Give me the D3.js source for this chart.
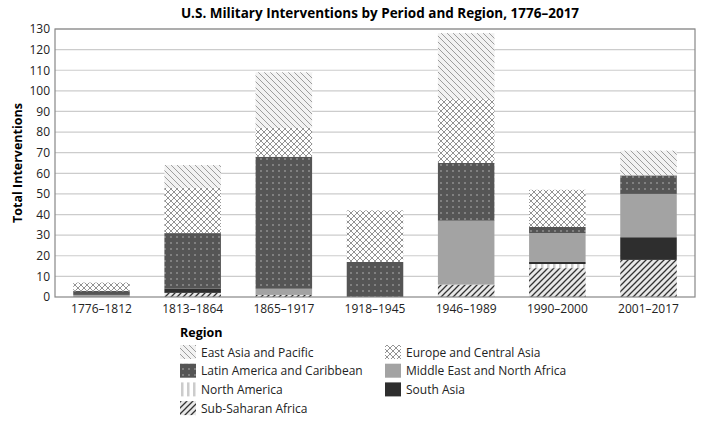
<!DOCTYPE html><html><head><meta charset="utf-8"><script src="https://cdn.jsdelivr.net/npm/d3@7"></script>
<style>body{margin:0;background:#fff}text{font-family:"Open Sans",sans-serif}</style></head><body><svg id="c" width="707" height="434"></svg>
<script>
const periods=["1776–1812","1813–1864","1865–1917","1918–1945","1946–1989","1990–2000","2001–2017"];
const regions=["Sub-Saharan Africa","North America","South Asia","Middle East and North Africa","Latin America and Caribbean","Europe and Central Asia","East Asia and Pacific"];
const subSaharan=[0,2,1,0,6,14,18];
const northAmerica=[0,0,0,0,0,2,0];
const southAsia=[0,2,0,0,0,1,11];
const mena=[1,0,3,0,31,14,21];
const latAm=[2,27,64,17,28,3,9];
const europe=[4,22,14,25,31,18,0];
const eastAsia=[0,11,27,0,32,0,12];
const yTicks=d3.range(0,131,10);
const series=[subSaharan,northAmerica,southAsia,mena,latAm,europe,eastAsia];
const svg=d3.select("#c");
const defs=svg.append("defs");
function pat(id,bg,draw){const p=defs.append("pattern").attr("id",id).attr("patternUnits","userSpaceOnUse").attr("width",6).attr("height",6);p.append("rect").attr("width",6).attr("height",6).attr("fill",bg);draw(p);}
pat("ssa","#e8e8e8",p=>p.append("path").attr("d","M-1,1L1,-1M0,6L6,0M5,7L7,5").attr("stroke","#333").attr("stroke-width",1.3));
pat("na","#fff",p=>p.append("rect").attr("x",1).attr("width",2.5).attr("height",6).attr("fill","#ccc"));
pat("sa","#2e2e2e",p=>{});
pat("mena","#a3a3a3",p=>{});
pat("lat","#555",p=>p.append("circle").attr("cx",3).attr("cy",3).attr("r",0.7).attr("fill","#ccc"));
pat("eu","#fff",p=>p.append("path").attr("d","M0,0L6,6M6,0L0,6").attr("stroke","#777").attr("stroke-width",0.8));
pat("ea","#f2f2f2",p=>p.append("path").attr("d","M-1,5L1,7M0,0L6,6M5,-1L7,1").attr("stroke","#888").attr("stroke-width",0.8));
const fills=["ssa","na","sa","mena","lat","eu","ea"];
const m={l:55,r:695,t:29,b:297};
const x=d3.scaleBand().domain(periods).range([m.l,m.r]).paddingInner(0.38).paddingOuter(0.2);
const y=d3.scaleLinear().domain([0,130]).range([m.b,m.t]);
svg.append("g").selectAll("line").data(yTicks.slice(1)).join("line").attr("x1",m.l).attr("x2",m.r).attr("y1",d=>y(d)).attr("y2",d=>y(d)).attr("stroke","#ccc").attr("stroke-width",1.2);
const rows=periods.map((p,i)=>{const o={p};regions.forEach((r,j)=>o[r]=series[j][i]);return o;});
const st=d3.stack().keys(regions)(rows);
st.forEach((s,j)=>svg.append("g").selectAll("rect").data(s).join("rect").attr("x",d=>x(d.data.p)).attr("width",x.bandwidth()).attr("y",d=>y(d[1])).attr("height",d=>y(d[0])-y(d[1])).attr("fill",`url(#${fills[j]})`));
svg.append("rect").attr("x",m.l).attr("y",m.t).attr("width",m.r-m.l).attr("height",m.b-m.t).attr("fill","none").attr("stroke","#888").attr("stroke-width",1.2);
const ya=svg.append("g").attr("transform",`translate(${m.l},0)`).call(d3.axisLeft(y).tickValues(yTicks).tickSize(0).tickPadding(5));
ya.select(".domain").remove();ya.selectAll("text").attr("font-size",12).attr("fill","#222");
const xa=svg.append("g").attr("transform",`translate(0,${m.b})`).call(d3.axisBottom(x).tickSize(0).tickPadding(7));
xa.select(".domain").remove();xa.selectAll("text").attr("font-size",12).attr("fill","#222");
svg.append("text").attr("x",380).attr("y",18).attr("text-anchor","middle").attr("font-weight","bold").attr("font-size",13.5).text("U.S. Military Interventions by Period and Region, 1776–2017");
svg.append("text").attr("transform",`translate(22,${(m.t+m.b)/2}) rotate(-90)`).attr("text-anchor","middle").attr("font-weight","bold").attr("font-size",12.5).text("Total Interventions");
svg.append("text").attr("x",180).attr("y",337).attr("font-weight","bold").attr("font-size",12.5).text("Region");
const leg=[["East Asia and Pacific","ea"],["Europe and Central Asia","eu"],["Latin America and Caribbean","lat"],["Middle East and North Africa","mena"],["North America","na"],["South Asia","sa"],["Sub-Saharan Africa","ssa"]];
leg.forEach((d,i)=>{const gx=i%2?385:180,gy=345+Math.floor(i/2)*18.7;
svg.append("rect").attr("x",gx).attr("y",gy).attr("width",16).attr("height",14).attr("fill",`url(#${d[1]})`);
svg.append("text").attr("x",gx+21).attr("y",gy+11.5).attr("font-size",12).attr("fill","#222").text(d[0]);});
</script></body></html>
